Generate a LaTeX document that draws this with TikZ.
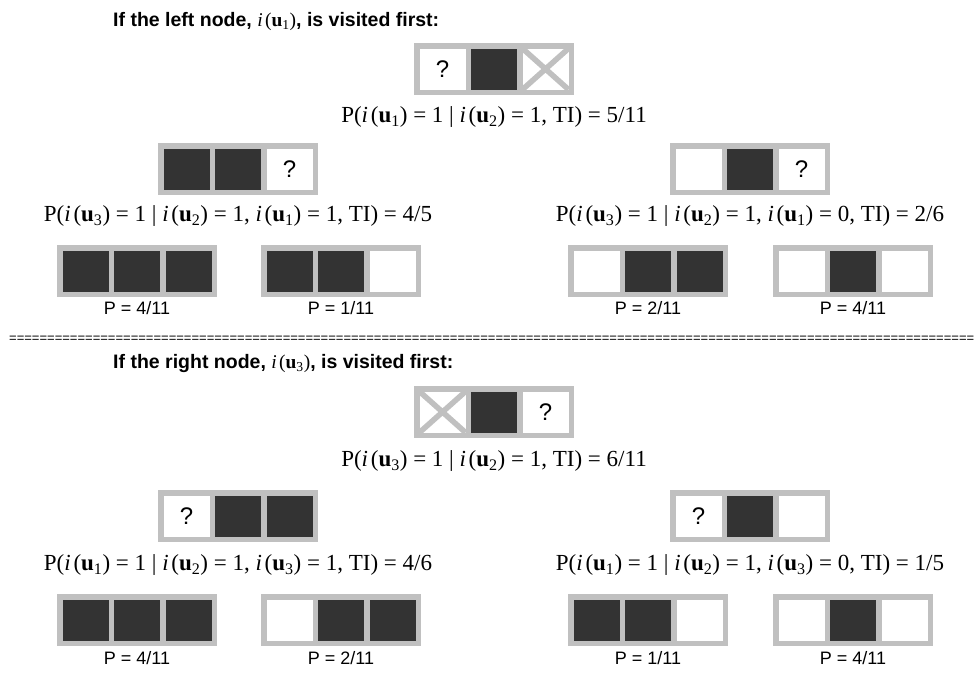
\documentclass[tikz,border=0pt]{standalone}
\usepackage{fontspec}
\setmainfont{Liberation Serif}
\newfontfamily\hv{Liberation Sans}
\definecolor{framegray}{HTML}{C0C0C0}
\definecolor{celldark}{HTML}{333333}
% indicator of a node: i(u_k)
\newcommand\iu[1]{\textit{i}\hspace{0.12em}(\textbf{u}\textsubscript{#1})}
% a row of '=' signs filling a given width
\newcommand\eqrow[1]{\hbox to #1{\xleaders\hbox{=}\hfill}}
\tikzset{
  formula/.style={font=\fontsize{23}{27}\selectfont, inner sep=0pt},
  plabel/.style={font=\hv\fontsize{18}{21}\selectfont, inner sep=0pt},
  heading/.style={font=\hv\bfseries\fontsize{19.5}{23}\selectfont, anchor=base west, inner sep=0pt},
  qmark/.style={font=\hv\fontsize{24}{28}\selectfont, inner sep=0pt},
  eqline/.style={font=\hv\fontsize{13}{15}\selectfont, inner sep=0pt, anchor=west},
  pics/cellw/.style={code={\fill[white] (0,0) rectangle (46,41);}},
  pics/celld/.style={code={\fill[celldark] (0,0) rectangle (46,41);}},
  pics/cellq/.style={code={\fill[white] (0,0) rectangle (46,41);
      \node[qmark] (-q) at (23,20.5) {?};}},
  pics/cellx/.style={code={\fill[white] (0,0) rectangle (46,41);
      \draw[framegray, line width=5.5] (0,0) -- (46,41) (0,41) -- (46,0);}},
  pics/trip/.style n args={3}{code={
      \fill[framegray] (0,0) rectangle (160,52);
      \pic at (5.5,5.5) {cell#1};
      \pic at (57,5.5) {cell#2};
      \pic at (108.5,5.5) {cell#3};
      \coordinate (-c) at (80,26);}}
}
\begin{document}
\begin{tikzpicture}[x=1pt,y=-1pt]
\useasboundingbox (0,0) rectangle (975,673);
\clip (0,0) rectangle (975,673);
\fill[white] (0,0) rectangle (975,673);

% ---- left node visited first ----
\node[heading] (h1) at (113,26) {If the left node, {\rmfamily\mdseries\iu{1}}, is visited first:};

\pic (a1) at (414,43) {trip={q}{d}{x}};
\node[formula] (f1) at (494,117) {P(\iu{1} = 1 | \iu{2} = 1, TI) = 5/11};

\pic (a2l) at (158,143) {trip={d}{d}{q}};
\pic (a2r) at (670,143) {trip={w}{d}{q}};
\node[formula] (f2l) at (238,216) {P(\iu{3} = 1 | \iu{2} = 1, \iu{1} = 1, TI) = 4/5};
\node[formula] (f2r) at (750,216) {P(\iu{3} = 1 | \iu{2} = 1, \iu{1} = 0, TI) = 2/6};

\pic (a3a) at (57,245) {trip={d}{d}{d}};
\pic (a3b) at (261,245) {trip={d}{d}{w}};
\pic (a3c) at (568,245) {trip={w}{d}{d}};
\pic (a3d) at (773,245) {trip={w}{d}{w}};
\node[plabel] (p3a) at (137,308) {P = 4/11};
\node[plabel] (p3b) at (341,308) {P = 1/11};
\node[plabel] (p3c) at (648,308) {P = 2/11};
\node[plabel] (p3d) at (853,308) {P = 4/11};

% ---- separator ----
\node[eqline] (sep) at (9,339.5) {\eqrow{965pt}};

% ---- right node visited first ----
\node[heading] (h2) at (113,368) {If the right node, {\rmfamily\mdseries\iu{3}}, is visited first:};

\pic (b1) at (414,386) {trip={x}{d}{q}};
\node[formula] (g1) at (494,461) {P(\iu{3} = 1 | \iu{2} = 1, TI) = 6/11};

\pic (b2l) at (158,490) {trip={q}{d}{d}};
\pic (b2r) at (670,490) {trip={q}{d}{w}};
\node[formula] (g2l) at (238,565) {P(\iu{1} = 1 | \iu{2} = 1, \iu{3} = 1, TI) = 4/6};
\node[formula] (g2r) at (750,565) {P(\iu{1} = 1 | \iu{2} = 1, \iu{3} = 0, TI) = 1/5};

\pic (b3a) at (57,594) {trip={d}{d}{d}};
\pic (b3b) at (261,594) {trip={w}{d}{d}};
\pic (b3c) at (568,594) {trip={d}{d}{w}};
\pic (b3d) at (773,594) {trip={w}{d}{w}};
\node[plabel] (q3a) at (137,658) {P = 4/11};
\node[plabel] (q3b) at (341,658) {P = 2/11};
\node[plabel] (q3c) at (648,658) {P = 1/11};
\node[plabel] (q3d) at (853,658) {P = 4/11};
\end{tikzpicture}
\end{document}
